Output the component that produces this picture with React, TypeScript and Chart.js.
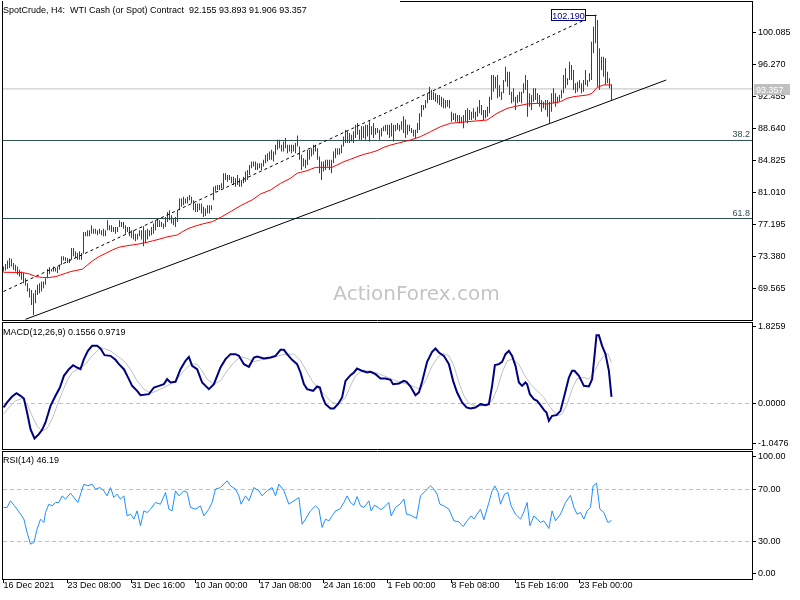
import React, { useEffect, useRef } from "react";
import { Chart, registerables } from "chart.js";
Chart.register(...registerables);

const FONT_FAMILY = '"Liberation Sans", Arial, sans-serif';
const FONT9 = `9px ${FONT_FAMILY}`;

const title = "SpotCrude, H4:  WTI Cash (or Spot) Contract  92.155 93.893 91.906 93.357";
const macdTitle = "MACD(12,26,9) 0.1556 0.9719";
const rsiTitle = "RSI(14) 46.19";
const watermark = "ActionForex.com";

// ---- price bars (H4), high / low per bar ----
const barHigh = [
  72.2, 72.5, 72.9, 73.2, 73.1, 72.6, 72.4, 72.2, 71.8, 71.6,
  71.4, 70.8, 70.2, 69.6, 69.4, 69.0, 69.4, 70.0, 70.2, 70.4,
  70.4, 70.8, 71.9, 72.1, 71.9, 72.2, 72.0, 72.2, 72.4, 73.4,
  73.4, 73.3, 73.2, 73.1, 74.4, 74.4, 74.0, 73.8, 74.0, 73.8,
  76.3, 76.3, 76.5, 76.5, 77.1, 76.7, 76.7, 76.5, 76.7, 76.5,
  76.7, 76.5, 77.7, 77.1, 77.1, 76.9, 76.9, 76.9, 77.7, 77.5,
  77.5, 77.1, 76.9, 76.9, 76.5, 76.5, 76.1, 76.1, 76.5, 76.5,
  77.0, 76.5, 76.7, 76.5, 76.9, 77.3, 77.7, 77.9, 77.7, 77.5,
  77.3, 78.1, 78.7, 78.9, 78.3, 77.9, 78.1, 78.9, 80.3, 80.3,
  80.5, 80.3, 80.5, 80.7, 80.5, 80.1, 79.7, 79.7, 79.7, 79.7,
  79.3, 79.1, 79.5, 79.5, 79.5,
  81.7, 81.8, 81.9, 81.9, 82.1, 83.3, 83.3, 83.1, 83.1, 82.9,
  82.9, 82.7, 83.1, 82.7, 82.5, 82.9, 83.5, 83.7, 84.3, 84.7,
  84.7, 84.7, 84.5, 84.5, 84.5, 84.9, 85.5, 85.7, 85.9, 86.1,
  85.9, 86.7, 87.3, 87.3, 86.7, 87.1, 87.5, 86.7, 86.7, 86.7,
  86.7, 86.9, 87.8, 86.5, 85.5, 85.1, 84.9, 86.1, 86.1, 86.3,
  86.7, 86.7, 86.3, 85.3, 84.7, 84.7, 84.9, 84.9, 84.9, 84.9,
  85.9, 86.3, 86.3, 86.3, 86.7, 87.7, 88.5, 88.3, 88.1, 87.9,
  88.3, 89.1, 89.3, 88.5, 88.9, 88.9, 89.1, 89.1, 89.5, 88.9,
  89.3, 88.7, 88.7, 88.5, 88.7, 88.9, 89.1, 89.1, 89.1, 89.3,
  89.1, 89.1, 89.3, 89.1, 89.5, 90.1, 89.7, 89.1, 89.1, 88.7,
  88.5, 88.5, 89.3,
  90.45, 91.44, 91.44, 92.04, 92.83, 93.63, 93.23, 93.03, 92.83, 92.63,
  92.63, 92.44, 92.24, 92.04, 92.04, 92.04, 90.65, 90.45, 90.45, 90.25,
  90.25, 90.05, 90.25, 90.85, 91.04, 90.85, 90.65, 91.04, 90.65, 91.24,
  92.04, 91.44, 90.85, 90.85, 91.24, 92.44, 95.02, 95.02, 94.82, 95.02,
  93.83, 93.03, 94.42, 96.01, 95.42, 95.42, 93.03, 93.43, 92.44, 92.63,
  93.03, 93.03, 94.03, 95.02, 94.42, 92.83, 92.63, 93.43, 93.43, 92.83,
  92.63, 92.04, 91.84, 92.04, 92.04, 91.84, 92.83, 93.43, 92.83, 92.44,
  92.63, 93.23, 95.02, 95.81, 94.62, 96.61, 96.21, 95.61, 94.03, 94.22,
  94.42, 94.03, 94.42, 95.61, 94.42, 95.22, 98.99, 100.78, 102.19, 101.58,
  98.2, 97.2, 97.2, 97.01, 95.42, 94.62, 93.89,
];
const barLow = [
  71.6, 71.7, 71.9, 72.0, 72.2, 71.8, 71.6, 71.2, 71.0, 70.6,
  70.2, 69.9, 69.2, 68.5, 67.6, 66.4, 67.8, 68.8, 69.0, 69.2,
  69.6, 70.0, 70.8, 71.3, 71.6, 71.6, 71.6, 71.4, 71.8, 72.4,
  72.9, 72.8, 72.6, 72.6, 73.0, 73.4, 73.2, 73.0, 73.0, 73.0,
  73.7, 75.8, 75.8, 75.8, 76.1, 76.1, 76.1, 75.9, 76.1, 75.9,
  75.8, 75.8, 76.5, 76.5, 76.3, 76.3, 76.1, 76.3, 76.9, 76.9,
  76.7, 76.1, 76.3, 75.8, 75.6, 75.4, 75.2, 75.4, 75.8, 75.4,
  74.6, 75.0, 75.4, 75.8, 75.9, 76.1, 76.5, 76.9, 76.9, 76.9,
  76.7, 76.9, 77.5, 77.7, 77.3, 77.1, 76.9, 77.5, 78.9, 79.3,
  79.5, 79.7, 79.7, 80.1, 79.7, 78.9, 78.7, 78.7, 78.9, 78.5,
  78.1, 78.2, 78.5, 78.5, 78.9,
  80.1, 81.1, 81.3, 81.3, 81.5, 81.5, 82.5, 82.3, 82.5, 82.1,
  81.9, 81.7, 81.9, 81.7, 81.7, 82.1, 82.3, 82.5, 83.1, 83.9,
  84.1, 83.7, 83.7, 83.9, 83.7, 84.1, 84.5, 84.7, 84.9, 84.9,
  84.7, 85.5, 86.1, 86.3, 85.9, 85.9, 86.3, 85.7, 85.9, 85.7,
  85.9, 85.7, 86.5, 84.9, 83.7, 84.1, 83.9, 84.3, 84.9, 85.3,
  85.5, 85.9, 84.9, 83.3, 82.5, 83.5, 83.7, 84.1, 83.7, 83.3,
  84.5, 85.1, 85.5, 85.5, 85.7, 86.5, 86.9, 86.9, 86.9, 87.1,
  86.9, 87.5, 87.9, 87.3, 87.3, 87.5, 87.3, 87.7, 87.1, 87.9,
  87.5, 87.9, 88.1, 87.3, 87.7, 88.3, 88.3, 87.9, 87.5, 87.7,
  87.1, 88.3, 88.5, 88.3, 88.5, 88.1, 87.5, 87.9, 88.3, 88.1,
  87.7, 87.5, 88.1,
  88.46, 90.05, 90.85, 91.04, 91.64, 92.04, 92.04, 92.04, 91.84, 91.64,
  91.44, 91.24, 91.04, 91.04, 91.24, 91.04, 89.45, 89.65, 89.45, 89.45,
  89.26, 89.26, 88.66, 89.45, 89.26, 89.65, 89.65, 89.85, 89.65, 90.05,
  90.45, 90.25, 89.65, 89.85, 90.05, 90.45, 92.04, 93.03, 93.43, 92.24,
  92.44, 92.04, 92.83, 94.22, 93.63, 92.63, 91.64, 91.84, 90.85, 91.64,
  91.84, 91.64, 92.83, 93.23, 90.05, 91.24, 90.85, 91.84, 92.04, 91.64,
  91.24, 90.65, 91.04, 90.85, 90.05, 89.26, 90.65, 91.64, 91.24, 91.64,
  91.84, 92.24, 92.83, 93.43, 93.83, 94.42, 94.42, 93.23, 92.83, 93.03,
  93.43, 92.83, 93.03, 93.83, 93.63, 94.22, 94.42, 97.6, 98.79, 93.63,
  93.23, 95.61, 94.82, 93.83, 94.03, 93.43, 91.91,
];

// ---- moving average (red) ----
const maIdx = [0, 9.5, 12.8, 16.2, 19.5, 22.8, 26.2, 28.7, 31.2, 33.7, 36.2, 39.5, 42, 44.5, 47.8, 51.2, 54.5, 57.8, 61.2, 64.5, 67.8, 71.2, 74.5, 77.8, 81.2, 84.5, 87, 89.5, 92.8, 96.2, 99.5, 104.5, 109, 114, 119, 124.3, 128.5, 133.5, 138.5, 143.5, 146.8, 148.5, 151.8, 156, 164.3, 166.8, 170.2, 173.5, 176.8, 180.2, 183.5, 186.8, 190.2, 193.5, 196.8, 200.2, 203.5, 208.5, 213.5, 218.5, 223.5, 231.8, 241.8, 246.8, 251.8, 256.8, 261.8, 266.8, 271.8, 278.5, 281.8, 285.2, 291.8, 294.3, 296.8, 300.2, 304];
const maVal = [71.5, 71.47, 71.31, 70.99, 70.87, 70.87, 70.99, 71.19, 71.39, 71.59, 71.71, 71.87, 72.38, 72.86, 73.37, 73.77, 74.17, 74.49, 74.64, 74.76, 74.88, 75.04, 75.24, 75.44, 75.68, 75.84, 75.96, 76.35, 76.75, 77.03, 77.26, 77.54, 78.1, 78.8, 79.5, 80.12, 80.83, 81.31, 82.1, 82.7, 83.3, 83.41, 83.61, 84.01, 84.01, 84.29, 84.69, 84.97, 85.28, 85.56, 85.76, 86.0, 86.4, 86.67, 86.87, 87.07, 87.27, 87.67, 88.26, 88.86, 89.26, 89.45, 89.65, 90.45, 91.04, 91.32, 91.56, 91.64, 91.56, 91.84, 92.24, 92.44, 92.63, 92.83, 93.55, 93.83, 93.83];

// ---- drawn objects ----
const channelIdx = [0, 289.5];
const channelVal = [69.21, 101.46];
const trendIdx = [11, 331.35];
const trendVal = [65.89, 94.42];
const fib382 = 87.21;
const fib618 = 77.91;
const lastPrice = 93.357;
const peakIdx = 296;
const peakPrice = 102.19;

// ---- MACD ----
const macdIdx = [0, 1.8, 4.3, 6.5, 8.5, 10.2, 11.8, 13.5, 15.5, 17.7, 19.3, 21, 23.5, 26, 28.2, 30.2, 32.7, 34.8, 36.8, 38.5, 40.2, 42.2, 44.3, 46.8, 48.5, 50.5, 53.5, 56, 57.7, 60.2, 62.7, 64.3, 66.8, 68.5, 72.7, 75.2, 77.7, 80.2, 81.8, 83.5, 86, 88.5, 91, 92.7, 94.3, 96.8, 99.3, 102.7, 105.2, 108.5, 111, 113.5, 116, 117.7, 120.2, 122.7, 125.2, 126.8, 130.2, 133.5, 136, 138.5, 140.2, 141.8, 144.3, 146.8, 148.5, 150.2, 151.8, 154.8, 156.8, 158.2, 159.3, 161, 163.5, 165.2, 167.2, 169.3, 171, 173.5, 175.2, 176.8, 179.3, 181.8, 183.5, 186, 188.5, 191, 193.5, 194.8, 197.7, 200.2, 201.5, 203.5, 206, 207.7, 209.3, 211.8, 214.3, 216, 217.7, 220.2, 222.7, 224.8, 226.8, 229.3, 231.5, 233.5, 236, 238.5, 241, 242.7, 244.3, 245.7, 247.7, 249.3, 251, 252.7, 254.3, 256, 257.7, 259.3, 261, 261.8, 263.2, 265.2, 266.8, 268.5, 270.2, 271.5, 272.7, 274.3, 276.5, 278.5, 280.2, 282.7, 284.3, 285.5, 287.7, 290.2, 292.7, 294.3, 295.5, 296.5, 297.7, 299.3, 301, 302.7, 304];
const macdVal = [-0.095, 0.024, 0.167, 0.246, 0.183, 0.119, -0.215, -0.612, -0.834, -0.731, -0.628, -0.453, -0.056, 0.183, 0.381, 0.66, 0.818, 0.914, 0.858, 0.818, 1.057, 1.255, 1.375, 1.375, 1.311, 1.152, 1.136, 1.041, 0.938, 0.818, 0.58, 0.421, 0.302, 0.199, 0.222, 0.381, 0.421, 0.461, 0.58, 0.501, 0.516, 0.818, 1.017, 1.112, 0.898, 0.818, 0.501, 0.342, 0.461, 0.858, 1.057, 1.176, 1.176, 1.136, 0.938, 0.874, 1.097, 1.12, 1.073, 1.097, 1.136, 1.279, 1.279, 1.176, 1.041, 0.938, 0.739, 0.461, 0.342, 0.302, 0.405, 0.381, 0.183, -0.016, -0.119, -0.119, -0.016, 0.143, 0.54, 0.675, 0.739, 0.834, 0.779, 0.739, 0.755, 0.699, 0.596, 0.596, 0.564, 0.461, 0.477, 0.54, 0.516, 0.405, 0.199, 0.262, 0.516, 0.993, 1.232, 1.311, 1.216, 1.136, 0.938, 0.54, 0.262, 0.024, -0.095, -0.119, -0.095, -0.016, -0.04, -0.016, 0.421, 0.914, 0.938, 0.993, 1.176, 1.255, 1.136, 0.898, 0.501, 0.421, 0.501, 0.461, 0.222, 0.103, 0.064, -0.04, -0.151, -0.215, -0.413, -0.294, -0.278, -0.175, 0.143, 0.62, 0.779, 0.779, 0.66, 0.421, 0.405, 0.58, 1.136, 1.629, 1.629, 1.375, 1.176, 0.779, 0.156];
const signalIdx = [0, 2.7, 6, 9.3, 11.8, 14.3, 16.8, 19.3, 21.8, 24.3, 26.8, 29.3, 31.8, 34.3, 37.7, 41, 44.3, 47.7, 50.2, 53.5, 56.8, 60.2, 63.5, 66.8, 70.2, 73.5, 76.8, 80.2, 83.5, 86.8, 90.2, 93.5, 96.8, 99.3, 101.8, 105.2, 108.5, 111.8, 115.2, 118.5, 121.8, 125.2, 128.5, 131.8, 135.2, 138.5, 141.8, 145.2, 148.5, 151, 154.3, 157.7, 161, 164.3, 167.7, 171, 173.5, 176, 179.3, 182.7, 186, 190.2, 194.3, 198.5, 202.7, 206, 208.5, 211, 214.3, 217.7, 220.2, 222.7, 225.2, 227.7, 230.2, 232.7, 236, 239.3, 241.8, 244.3, 246.8, 249.3, 251.8, 254.3, 257.7, 260.2, 263.5, 266.8, 270.2, 273.5, 276.8, 279.3, 281.8, 284.3, 286.8, 290.2, 292.7, 295.2, 297.7, 300.2, 302.2, 304];
const signalVal = [-0.254, -0.095, 0.064, 0.119, -0.016, -0.294, -0.532, -0.652, -0.596, -0.373, -0.056, 0.262, 0.54, 0.739, 0.834, 0.938, 1.136, 1.295, 1.311, 1.255, 1.136, 1.017, 0.818, 0.54, 0.342, 0.246, 0.302, 0.381, 0.461, 0.58, 0.779, 0.938, 0.938, 0.779, 0.58, 0.461, 0.54, 0.779, 0.977, 1.112, 1.073, 0.993, 1.041, 1.057, 1.097, 1.152, 1.176, 1.176, 1.017, 0.818, 0.54, 0.342, 0.183, 0.024, -0.016, 0.143, 0.421, 0.66, 0.779, 0.779, 0.739, 0.66, 0.58, 0.501, 0.461, 0.381, 0.342, 0.54, 0.898, 1.136, 1.192, 1.136, 0.898, 0.501, 0.183, 0.0, -0.056, -0.056, -0.016, 0.064, 0.342, 0.739, 1.017, 1.057, 0.938, 0.699, 0.461, 0.302, 0.143, -0.095, -0.294, -0.254, -0.016, 0.342, 0.596, 0.62, 0.58, 0.739, 0.977, 1.136, 1.192, 0.972];

// ---- RSI ----
const rsiIdx = [0, 1.8, 3.5, 5.2, 6.8, 8.5, 10.2, 11.8, 13.5, 15.2, 16.8, 18.5, 20.2, 21, 22.7, 24.3, 26, 27.7, 29.3, 31, 33.5, 35.2, 37.2, 38.8, 40.2, 42.2, 44.3, 46, 48.2, 50.2, 51.8, 53.5, 55.2, 56.8, 58.5, 60.2, 61.8, 63.5, 65.2, 66.8, 68.5, 70.2, 71.8, 73.5, 76, 78.5, 81, 82.7, 84.3, 86, 87.7, 90.2, 91.8, 93.5, 96, 98.5, 100.2, 102.7, 104.3, 106, 108.5, 111.8, 113.5, 116, 117.7, 118.8, 121, 122.7, 125.2, 127.7, 129.3, 131.8, 134.3, 136, 137.7, 140.2, 142.7, 145.2, 147.7, 149.3, 151, 153.5, 156, 157.7, 159.3, 161, 162.7, 164.3, 166, 168.2, 170.2, 171.8, 173.5, 175.2, 176.8, 178.5, 180.2, 182.7, 183.8, 185.5, 187.2, 188.8, 191, 192.7, 193.8, 196, 198.2, 200.2, 201.5, 203.5, 206.5, 208.5, 211, 213.5, 215.2, 216.8, 218.2, 220.2, 222.7, 225.2, 227.7, 229.8, 231.8, 233.8, 235.2, 236.8, 238.5, 240.2, 242.7, 244.3, 245.7, 247.3, 248.5, 250.5, 252.2, 253.8, 256, 258.5, 260.2, 261.8, 263.2, 265.2, 266.8, 268.5, 270.2, 272.7, 274.3, 276, 278.5, 281, 283.5, 285.2, 286.8, 288.5, 290.2, 291.8, 293.5, 294.8, 296.5, 298.2, 300.2, 302.2, 304];
const rsiVal = [56.2, 56.2, 61.3, 58, 54.9, 51, 47.2, 36.9, 28, 29.2, 39.5, 47.2, 44.6, 52.3, 58.7, 57.4, 60, 60, 65.1, 62.6, 67.2, 63.8, 60, 67.7, 74.1, 72.8, 74.1, 70.3, 71.5, 69, 65.1, 71.5, 63.8, 66.4, 62.6, 65.1, 49.7, 51, 47.2, 53.6, 42.1, 53.6, 52.3, 54.9, 60, 58.7, 67.7, 54.9, 53.6, 69, 65.1, 69, 67.7, 56.2, 54.9, 57.4, 49.7, 54.9, 60, 70.3, 71.5, 76.7, 72.8, 70.3, 65.1, 58.7, 65.1, 61.3, 71.5, 69, 65.1, 69, 71.5, 65.1, 74.1, 69, 58.7, 61.3, 63.8, 43.3, 47.2, 53.6, 57.4, 54.9, 40.8, 47.2, 45.9, 49.7, 53.6, 54.9, 60, 65.1, 60, 57.9, 64.6, 57.4, 56.2, 61.3, 53.6, 57.9, 56.2, 54.4, 57.4, 60, 49.7, 56.2, 58.7, 62.6, 51, 50.3, 47.7, 65.1, 69, 72.8, 70.3, 66.4, 58.7, 57.4, 54.9, 45.9, 45.1, 41.5, 45.9, 49.7, 47.2, 51, 54.9, 46.7, 60, 69, 72.8, 67.7, 58.7, 66.4, 67.7, 57.4, 51, 47.2, 52.8, 60, 42.1, 49.7, 47.2, 44.6, 45.9, 40, 53.6, 45.9, 51, 60, 65.6, 56.2, 51, 52.3, 47.2, 53.6, 56.2, 72.8, 74.9, 54.9, 52.3, 44.6, 46.19];

// ---- axes ----
const priceTickValues = [100.085, 96.27, 92.455, 88.64, 84.825, 81.01, 77.195, 73.38, 69.565];
const priceTickLabels = ["100.085", "96.270", "92.455", "88.640", "84.825", "81.010", "77.195", "73.380", "69.565"];
const macdTickValues = [1.8259, 0, -0.954];
const macdTickLabels = ["1.8259", "0.0000", "-1.0476"];
const rsiTickValues = [95.6, 70, 30, 5.15];
const rsiTickLabels = ["100.00", "70.00", "30.00", "0.00"];
const timeTickIdx = [0, 32, 64, 96, 128, 160, 192, 224, 256, 288];
const timeTickLabels = ["16 Dec 2021", "23 Dec 08:00", "31 Dec 16:00", "10 Jan 00:00", "17 Jan 08:00", "24 Jan 16:00", "1 Feb 00:00", "8 Feb 08:00", "15 Feb 16:00", "23 Feb 00:00"];

const X_MIN = -0.25;
const X_MAX = 374.25;
const PRICE_MIN = 65.81;
const PRICE_MAX = 103.721;
const MACD_MIN = -1.085;
const MACD_MAX = 1.919;
const RSI_MIN = 1.15;
const RSI_MAX = 98.85;

const BAR_COLOR = "#0f5174";

const pts = (idx: number[], val: number[]) => idx.map((x, k) => ({ x, y: val[k] }));
const hline = (v: number) => [{ x: X_MIN, y: v }, { x: X_MAX, y: v }];

function rightAxis(min: number, max: number, values: number[], labels: string[]) {
  return {
    type: "linear",
    position: "right",
    min,
    max,
    afterFit: (s: any) => {
      s.width = 48;
      s.paddingTop = 0;
      s.paddingBottom = 0;
    },
    afterBuildTicks: (s: any) => {
      s.ticks = values.map((v) => ({ value: v }));
    },
    ticks: {
      autoSkip: false,
      padding: 2,
      color: "#000",
      font: { family: FONT_FAMILY, size: 9 },
      callback: (_v: any, i: number) => labels[i],
    },
    grid: { drawOnChartArea: false, drawTicks: true, tickLength: 4, color: "#000", lineWidth: 1 },
    border: { display: true, color: "#000" },
  };
}

const hiddenX = { type: "linear", min: X_MIN, max: X_MAX, display: false, offset: false };

function panelBorders(ctx: CanvasRenderingContext2D, top: number, bottom: number, topFrom: number) {
  ctx.save();
  ctx.strokeStyle = "#000";
  ctx.lineWidth = 1;
  ctx.beginPath();
  ctx.moveTo(2.5, top);
  ctx.lineTo(2.5, bottom + 1);
  ctx.moveTo(752.5, top);
  ctx.lineTo(752.5, bottom + 1);
  ctx.moveTo(2, bottom + 0.5);
  ctx.lineTo(753, bottom + 0.5);
  ctx.moveTo(topFrom, top + 0.5);
  ctx.lineTo(753, top + 0.5);
  ctx.stroke();
  ctx.restore();
}

const mainDecor = {
  id: "mainDecor",
  beforeDatasetsDraw(chart: any) {
    const ctx = chart.ctx;
    ctx.save();
    ctx.font = '20px "DejaVu Sans", sans-serif';
    ctx.fillStyle = "#c4c4c4";
    ctx.textAlign = "center";
    ctx.textBaseline = "alphabetic";
    ctx.fillText(watermark, 416.5, 300);
    ctx.restore();
  },
  afterDraw(chart: any) {
    const ctx = chart.ctx;
    const x = chart.scales.x;
    const y = chart.scales.y;
    panelBorders(ctx, 1, 320, 400);
    ctx.save();
    ctx.font = FONT9;
    ctx.textBaseline = "alphabetic";
    ctx.fillStyle = "#000";
    ctx.textAlign = "left";
    ctx.fillText(title, 3, 13);

    ctx.fillStyle = "#2f4f4f";
    ctx.textAlign = "right";
    ctx.fillText("38.2", 750, Math.round(y.getPixelForValue(fib382)) - 3);
    ctx.fillText("61.8", 750, Math.round(y.getPixelForValue(fib618)) - 3);

    const px = x.getPixelForValue(peakIdx);
    const py = Math.round(y.getPixelForValue(peakPrice));
    const bx1 = Math.round(px) - 10;
    const bw = 35;
    const bx0 = bx1 - bw;
    ctx.fillStyle = "#fff";
    ctx.fillRect(bx0, py - 6, bw, 12);
    ctx.strokeStyle = "#000080";
    ctx.lineWidth = 1;
    ctx.strokeRect(bx0 + 0.5, py - 5.5, bw - 1, 11);
    ctx.beginPath();
    ctx.moveTo(bx1, py + 0.5);
    ctx.lineTo(px + 1, py + 0.5);
    ctx.stroke();
    ctx.fillStyle = "#000080";
    ctx.textAlign = "center";
    ctx.fillText("102.190", bx0 + bw / 2, py + 4);

    const ly = Math.round(y.getPixelForValue(lastPrice));
    ctx.fillStyle = "#c0c0c0";
    ctx.fillRect(754, ly - 5, 36, 11);
    ctx.fillStyle = "#fff";
    ctx.textAlign = "left";
    ctx.fillText("93.357", 756, ly + 4);
    ctx.restore();
  },
};

const macdDecor = {
  id: "macdDecor",
  afterDraw(chart: any) {
    const ctx = chart.ctx;
    panelBorders(ctx, 1, 128, 2);
    ctx.save();
    ctx.font = FONT9;
    ctx.fillStyle = "#000";
    ctx.textAlign = "left";
    ctx.textBaseline = "alphabetic";
    ctx.fillText(macdTitle, 3, 14);
    ctx.restore();
  },
};

const rsiDecor = {
  id: "rsiDecor",
  afterDraw(chart: any) {
    const ctx = chart.ctx;
    panelBorders(ctx, 1, 129, 2);
    ctx.save();
    ctx.font = FONT9;
    ctx.fillStyle = "#000";
    ctx.textAlign = "left";
    ctx.textBaseline = "alphabetic";
    ctx.fillText(rsiTitle, 3, 13);
    ctx.restore();
  },
};

const baseOpts = {
  responsive: false,
  animation: false,
  devicePixelRatio: 1,
  events: [],
  plugins: { legend: { display: false }, tooltip: { enabled: false } },
};

export default function App() {
  const mainRef = useRef<HTMLCanvasElement>(null);
  const macdRef = useRef<HTMLCanvasElement>(null);
  const rsiRef = useRef<HTMLCanvasElement>(null);

  useEffect(() => {
    const charts: Chart[] = [];
    const line = (data: any[], color: string, width: number, dash: number[] = []) => ({
      type: "line",
      data,
      borderColor: color,
      borderWidth: width,
      borderDash: dash,
      pointRadius: 0,
      fill: false,
      tension: 0,
    });

    if (mainRef.current) {
      const bars = barHigh.map((h, i) => ({ x: i, y: [barLow[i], h] }));
      charts.push(
        new Chart(mainRef.current, {
          type: "bar",
          data: {
            datasets: [
              line(pts(maIdx, maVal), "#ff0000", 1),
              line(pts(trendIdx, trendVal), "#000000", 1),
              line(pts(channelIdx, channelVal), "#000000", 1, [3, 3]),
              {
                type: "bar",
                data: bars,
                backgroundColor: BAR_COLOR,
                borderWidth: 0,
                barThickness: 1,
                inflateAmount: 0,
              },
              line(hline(fib382), "#2f4f4f", 1),
              line(hline(fib618), "#2f4f4f", 1),
              line(hline(lastPrice), "#c0c0c0", 1),
            ] as any,
          },
          options: {
            ...baseOpts,
            layout: { padding: { left: 3, top: 2, right: 0, bottom: 1 } },
            scales: {
              x: hiddenX,
              y: rightAxis(PRICE_MIN, PRICE_MAX, priceTickValues, priceTickLabels),
            },
          } as any,
          plugins: [mainDecor],
        })
      );
    }

    if (macdRef.current) {
      charts.push(
        new Chart(macdRef.current, {
          type: "line",
          data: {
            datasets: [
              line(pts(macdIdx, macdVal), "#000080", 2),
              line(pts(signalIdx, signalVal), "#c0c0c0", 1),
              line(hline(0), "#c0c0c0", 1, [4, 3]),
            ] as any,
          },
          options: {
            ...baseOpts,
            layout: { padding: { left: 3, top: 2, right: 0, bottom: 1 } },
            scales: {
              x: hiddenX,
              y: rightAxis(MACD_MIN, MACD_MAX, macdTickValues, macdTickLabels),
            },
          } as any,
          plugins: [macdDecor],
        })
      );
    }

    if (rsiRef.current) {
      charts.push(
        new Chart(rsiRef.current, {
          type: "line",
          data: {
            datasets: [
              line(pts(rsiIdx, rsiVal), "#1e90ff", 1),
              line(hline(70), "#c0c0c0", 1, [4, 3]),
              line(hline(30), "#c0c0c0", 1, [4, 3]),
            ] as any,
          },
          options: {
            ...baseOpts,
            layout: { padding: { left: 3, top: 2, right: 0, bottom: 0 } },
            scales: {
              x: {
                type: "linear",
                position: "bottom",
                min: X_MIN,
                max: X_MAX,
                offset: false,
                afterFit: (s: any) => {
                  s.height = 21;
                  s.paddingLeft = 0;
                  s.paddingRight = 0;
                },
                afterBuildTicks: (s: any) => {
                  s.ticks = timeTickIdx.map((v) => ({ value: v }));
                },
                ticks: {
                  autoSkip: false,
                  maxRotation: 0,
                  minRotation: 0,
                  align: "start",
                  padding: -3,
                  color: "#000",
                  font: { family: FONT_FAMILY, size: 9 },
                  callback: (_v: any, i: number) => timeTickLabels[i],
                },
                grid: { drawOnChartArea: false, drawTicks: true, tickLength: 4, color: "#000" },
                border: { display: false },
              },
              y: rightAxis(RSI_MIN, RSI_MAX, rsiTickValues, rsiTickLabels),
            },
          } as any,
          plugins: [rsiDecor],
        })
      );
    }

    return () => charts.forEach((c) => c.destroy());
  }, []);

  return (
    <div style={{ position: "absolute", left: 0, top: 0, width: 800, height: 600, background: "#fff" }}>
      <canvas ref={mainRef} width={800} height={321} style={{ position: "absolute", left: 0, top: 0 }} />
      <canvas ref={macdRef} width={800} height={129} style={{ position: "absolute", left: 0, top: 321 }} />
      <canvas ref={rsiRef} width={800} height={150} style={{ position: "absolute", left: 0, top: 450 }} />
    </div>
  );
}
